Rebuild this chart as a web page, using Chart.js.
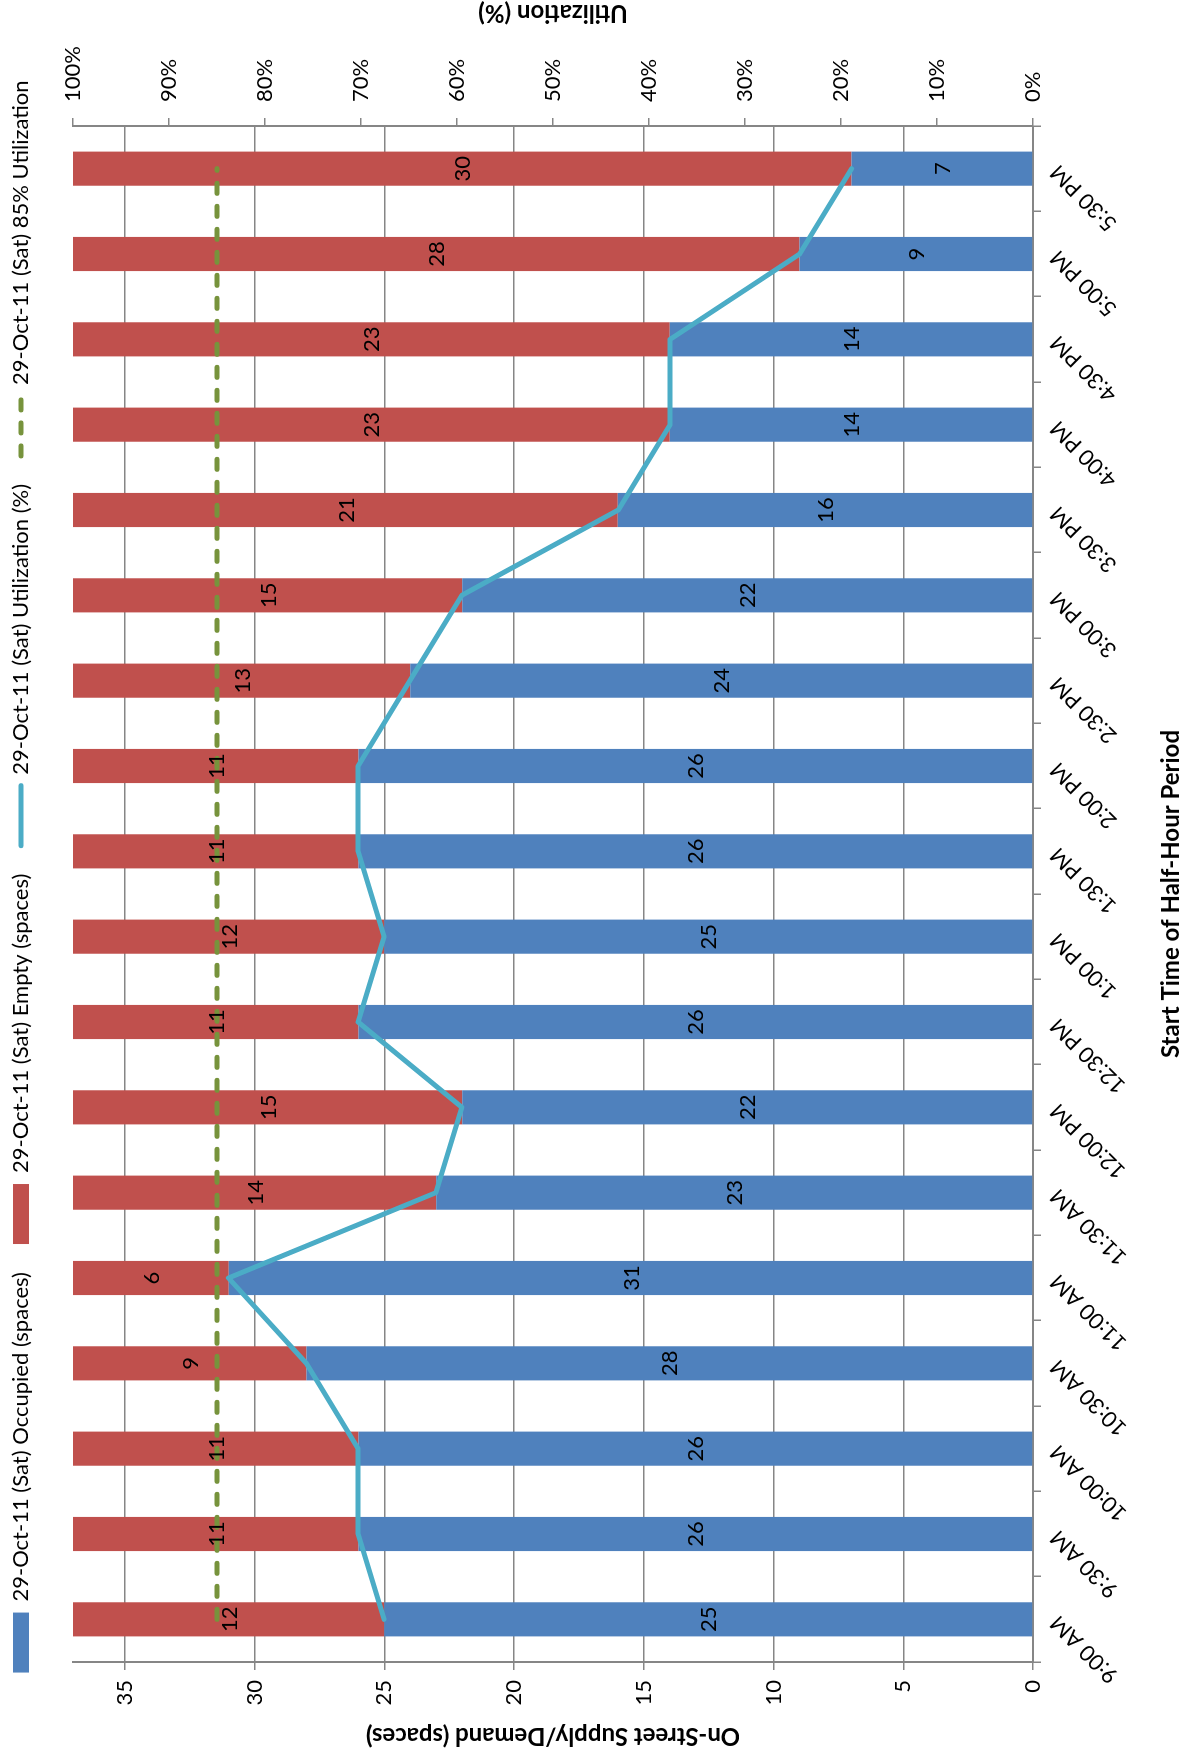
<!DOCTYPE html>
<html>
<head>
<meta charset="utf-8">
<title>On-Street Parking Utilization</title>
<script src="https://cdn.jsdelivr.net/npm/chart.js@4.4.0/dist/chart.umd.min.js"></script>
<style>
  html, body { margin: 0; padding: 0; background: #fff; overflow: hidden; }
  /* chart is laid out landscape, then turned a quarter turn counter-clockwise */
  #wrap {
    position: absolute; left: 0; top: 0;
    width: 1753px; height: 1191px;
    transform-origin: 0 0;
    transform: translate(0, 1753px) rotate(-90deg);
  }
</style>
</head>
<body>
<div id="wrap"><canvas id="parkingChart" width="1753" height="1191"></canvas></div>
<script>
const periods = ['9:00 AM', '9:30 AM', '10:00 AM', '10:30 AM', '11:00 AM', '11:30 AM',
  '12:00 PM', '12:30 PM', '1:00 PM', '1:30 PM', '2:00 PM', '2:30 PM',
  '3:00 PM', '3:30 PM', '4:00 PM', '4:30 PM', '5:00 PM', '5:30 PM'];
const occupied = [25, 26, 26, 28, 31, 23, 22, 26, 25, 26, 26, 24, 22, 16, 14, 14, 9, 7];
const empty = [12, 11, 11, 9, 6, 14, 15, 11, 12, 11, 11, 13, 15, 21, 23, 23, 28, 30];
const utilization = [67.6, 70.3, 70.3, 75.7, 83.8, 62.2, 59.5, 70.3, 67.6, 70.3, 70.3, 64.9,
  59.5, 43.2, 37.8, 37.8, 24.3, 18.9];
const target = [85, 85, 85, 85, 85, 85, 85, 85, 85, 85, 85, 85, 85, 85, 85, 85, 85, 85];
const spaceTicks = [0, 5, 10, 15, 20, 25, 30, 35];

const FONT = 'Lato';
const GRID = '#868686';

Chart.defaults.font.family = FONT;
Chart.defaults.font.size = 22;
Chart.defaults.color = '#000';

// leave room above the plot for the legend row
const legendSpace = {
  id: 'legendSpace',
  beforeLayout(chart) {
    const lg = chart.legend;
    if (lg && !lg._spaced) {
      const fit = lg.fit;
      lg.fit = function () { fit.call(this); this.height = 91; };
      lg._spaced = true;
    }
  }
};

// numbers in the middle of each bar segment
const barLabels = {
  id: 'barLabels',
  afterDatasetsDraw(chart) {
    const ctx = chart.ctx;
    ctx.save();
    ctx.font = '22px ' + FONT;
    ctx.fillStyle = '#000';
    ctx.textAlign = 'center';
    ctx.textBaseline = 'middle';
    [0, 1].forEach(di => {
      chart.getDatasetMeta(di).data.forEach((bar, i) => {
        const c = bar.getCenterPoint();
        ctx.fillText(String(chart.data.datasets[di].data[i]), c.x, c.y + 1);
      });
    });
    ctx.restore();
  }
};

// right axis title reads bottom-to-top like the left one
const rightTitle = {
  id: 'rightTitle',
  afterDraw(chart) {
    const { ctx, chartArea } = chart;
    const s = chart.scales.y1;
    ctx.save();
    ctx.translate(s.right - 13, (chartArea.top + chartArea.bottom) / 2);
    ctx.rotate(-Math.PI / 2);
    ctx.font = 'bold 24px ' + FONT;
    ctx.fillStyle = '#000';
    ctx.textAlign = 'center';
    ctx.textBaseline = 'middle';
    ctx.fillText('Utilization (%)', 0, 0);
    ctx.restore();
  }
};

new Chart(document.getElementById('parkingChart'), {
  data: {
    labels: periods,
    datasets: [
      {
        type: 'bar', label: '29-Oct-11 (Sat) Occupied (spaces)', data: occupied,
        backgroundColor: '#4F81BD', yAxisID: 'y', stack: 'supply', order: 2,
        barPercentage: 0.4, categoryPercentage: 1
      },
      {
        type: 'bar', label: '29-Oct-11 (Sat) Empty (spaces)', data: empty,
        backgroundColor: '#C0504D', yAxisID: 'y', stack: 'supply', order: 2,
        barPercentage: 0.4, categoryPercentage: 1
      },
      {
        type: 'line', label: '29-Oct-11 (Sat) Utilization (%)', data: utilization,
        borderColor: '#4BACC6', borderWidth: 5, pointRadius: 0, tension: 0,
        borderJoinStyle: 'round', borderCapStyle: 'round', yAxisID: 'y1', order: 1
      },
      {
        type: 'line', label: '29-Oct-11 (Sat) 85% Utilization', data: target,
        borderColor: '#77933C', borderWidth: 5, pointRadius: 0, borderDash: [10, 13],
        borderCapStyle: 'round', yAxisID: 'y1', order: 1
      }
    ]
  },
  options: {
    responsive: false,
    animation: false,
    layout: { padding: { top: -18, left: 0, right: 0, bottom: 0 } },
    plugins: {
      tooltip: { enabled: false },
      legend: {
        position: 'top',
        labels: {
          usePointStyle: true,
          pointStyleWidth: 60,
          boxHeight: 16,
          padding: 28,
          font: { size: 22 },
          generateLabels(chart) {
            return chart.data.datasets.map((ds, i) => {
              const isLine = ds.type === 'line';
              return {
                text: ds.label,
                datasetIndex: i,
                fillStyle: isLine ? 'rgba(0,0,0,0)' : ds.backgroundColor,
                strokeStyle: isLine ? ds.borderColor : ds.backgroundColor,
                lineWidth: isLine ? 5 : 0,
                lineDash: ds.borderDash || [],
                lineCap: isLine ? 'round' : 'butt',
                pointStyle: isLine ? 'line' : 'rect',
                fontColor: '#000',
                hidden: false
              };
            });
          }
        }
      }
    },
    scales: {
      x: {
        stacked: true,
        offset: true,
        grid: { drawOnChartArea: false, drawTicks: true, tickLength: 8, color: GRID, lineWidth: 1.5, offset: true },
        border: { display: true, color: GRID, width: 2 },
        ticks: { autoSkip: false, minRotation: 45, maxRotation: 45, padding: 4 },
        title: {
          display: true, text: 'Start Time of Half-Hour Period',
          font: { size: 24, weight: 'bold' }, padding: { top: 0, bottom: 5 }
        },
        afterFit(s) { s.height = 158; }
      },
      y: {
        position: 'left',
        stacked: true,
        min: 0, max: 37,
        afterBuildTicks(s) { s.ticks = spaceTicks.map(v => ({ value: v })); },
        ticks: { padding: 10 },
        grid: { color: GRID, lineWidth: 1.5, tickLength: 8 },
        border: { display: true, color: GRID, width: 2 },
        title: {
          display: true, text: 'On-Street Supply/Demand (spaces)',
          font: { size: 24, weight: 'bold' }, padding: { top: 3, bottom: 0 }
        },
        afterFit(s) { s.width = 91; }
      },
      y1: {
        position: 'right',
        min: 0, max: 100,
        ticks: { stepSize: 10, padding: 16, callback: v => v + '%' },
        grid: { drawOnChartArea: false, color: GRID, lineWidth: 1.5, tickLength: 8 },
        border: { display: true, color: GRID, width: 2 },
        afterFit(s) { s.width = 126; }
      }
    }
  },
  plugins: [legendSpace, barLabels, rightTitle]
});
</script>
</body>
</html>
